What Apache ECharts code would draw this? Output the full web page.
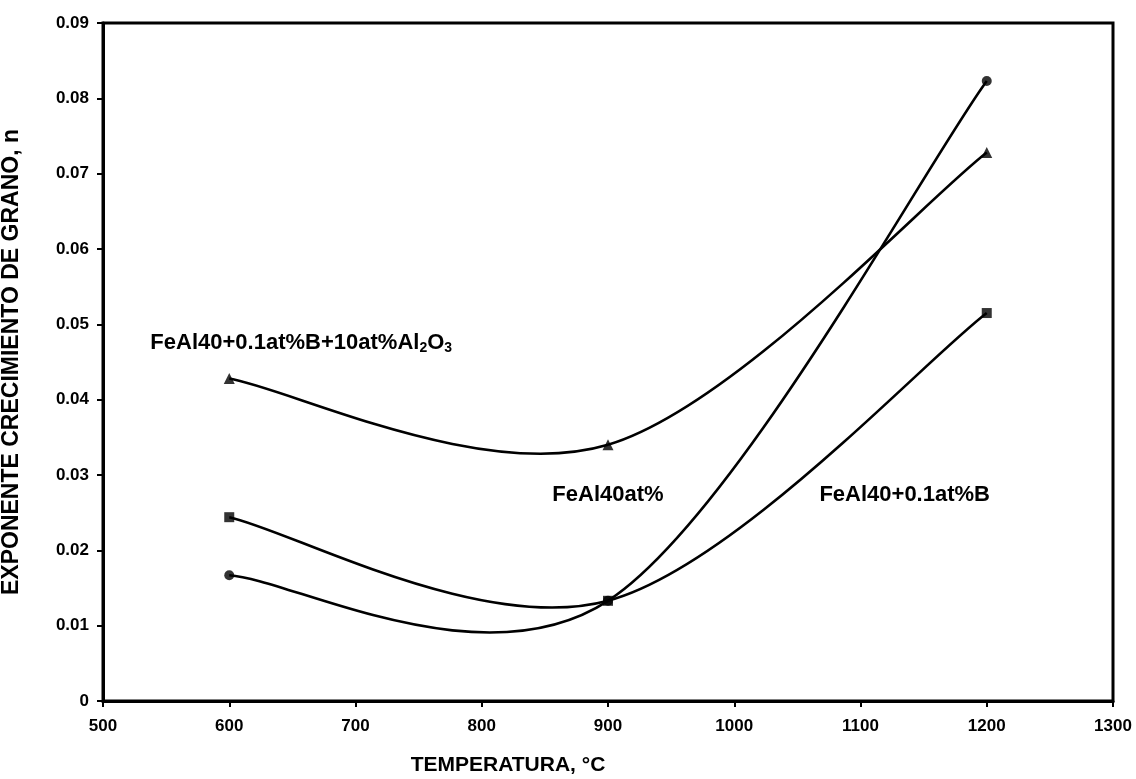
<!DOCTYPE html>
<html><head><meta charset="utf-8">
<script src="https://cdn.jsdelivr.net/npm/echarts@6/dist/echarts.min.js"></script>
<style>html,body{margin:0;padding:0;background:#fff}#c{width:1136px;height:779px}</style>
</head><body><div id="c"></div>
<script>
const temps = [600, 900, 1200];
const feal40 = [0.0167, 0.0133, 0.0823];
const feal40B = [0.0244, 0.0133, 0.0515];
const feal40BAl = [0.0428, 0.0340, 0.0728];
const seriesNames = ['FeAl40at%', 'FeAl40+0.1at%B', 'FeAl40+0.1at%B+10at%Al2O3'];
const labelPos = [[900, 0.0273], [1135, 0.0273], [657, 0.0475]];

const F = 'Liberation Sans, Arial, sans-serif';
const chart = echarts.init(document.getElementById('c'));

// Excel-style smoothed curve (Catmull-Rom / Bezier) drawn through the axis scales
function curve(name, vals) {
  return {
    name: name + ' curve', type: 'custom',
    data: temps.map((t, i) => [t, vals[i]]),
    renderItem: function (params, api) {
      const i = params.dataIndex;
      if (i >= temps.length - 1) return null;
      const P = temps.map((t, k) => api.coord([t, vals[k]]));
      const p0 = P[Math.max(i - 1, 0)], p1 = P[i], p2 = P[i + 1], p3 = P[Math.min(i + 2, P.length - 1)];
      return {
        type: 'bezierCurve',
        shape: {
          x1: p1[0], y1: p1[1], x2: p2[0], y2: p2[1],
          cpx1: p1[0] + (p2[0] - p0[0]) / 6, cpy1: p1[1] + (p2[1] - p0[1]) / 6,
          cpx2: p2[0] - (p3[0] - p1[0]) / 6, cpy2: p2[1] - (p3[1] - p1[1]) / 6
        },
        style: { stroke: '#000', lineWidth: 2.6, fill: null }
      };
    },
    silent: true, z: 2
  };
}
function marks(name, vals, sym, size, labelText, pos) {
  return {
    name, type: 'scatter',
    data: temps.map((t, i) => [t, vals[i]]),
    symbol: sym, symbolSize: size,
    itemStyle: { color: '#000' },
    z: 3,
    markPoint: {
      symbol: 'circle', symbolSize: 0,
      data: [{ coord: pos, value: 0 }],
      label: { show: true, formatter: labelText, color: '#000',
        rich: { sub: { fontSize: 14, fontWeight: 'bold', fontFamily: F, color: '#000', padding: [10, 0, 0, 0] },
                n: { fontSize: 22, fontWeight: 'bold', fontFamily: F, color: '#000' } } }
    }
  };
}
chart.setOption({
  animation: false,
  grid: { left: 103, right: 23, top: 23, bottom: 78, show: true, borderColor: '#000', borderWidth: 3,
          outerBoundsMode: 'none', containLabel: false },
  xAxis: {
    type: 'value', min: 500, max: 1300, interval: 100,
    name: 'TEMPERATURA, °C', nameLocation: 'middle', nameGap: 54,
    nameTextStyle: { fontFamily: F, fontWeight: 'bold', fontSize: 21, color: '#000', padding: [0, 200, 0, 0] },
    axisLine: { lineStyle: { color: '#000', width: 3 } },
    axisTick: { show: true, length: 6, lineStyle: { color: '#000', width: 2 } },
    axisLabel: { fontFamily: F, fontWeight: 'bold', fontSize: 17, color: '#000', margin: 17, formatter: v => String(v) },
    splitLine: { show: false }
  },
  yAxis: {
    type: 'value', min: 0, max: 0.09, interval: 0.01,
    name: 'EXPONENTE CRECIMIENTO DE GRANO, n', nameLocation: 'middle', nameGap: 80, nameRotate: 90,
    nameTextStyle: { fontFamily: F, fontWeight: 'bold', fontSize: 23, color: '#000' },
    axisLine: { lineStyle: { color: '#000', width: 3 } },
    axisTick: { show: true, length: 6, lineStyle: { color: '#000', width: 2 } },
    axisLabel: { fontFamily: F, fontWeight: 'bold', fontSize: 17, color: '#000', margin: 14,
      formatter: v => v === 0 ? '0' : v.toFixed(2) },
    splitLine: { show: false }
  },
  series: [
    curve(seriesNames[0], feal40),
    curve(seriesNames[1], feal40B),
    curve(seriesNames[2], feal40BAl),
    marks(seriesNames[0], feal40, 'circle', 10, '{n|FeAl40at%}', labelPos[0]),
    marks(seriesNames[1], feal40B, 'rect', 10, '{n|FeAl40+0.1at%B}', labelPos[1]),
    marks(seriesNames[2], feal40BAl, 'triangle', 11, '{n|FeAl40+0.1at%B+10at%Al}{sub|2}{n|O}{sub|3}', labelPos[2])
  ]
});
</script></body></html>
